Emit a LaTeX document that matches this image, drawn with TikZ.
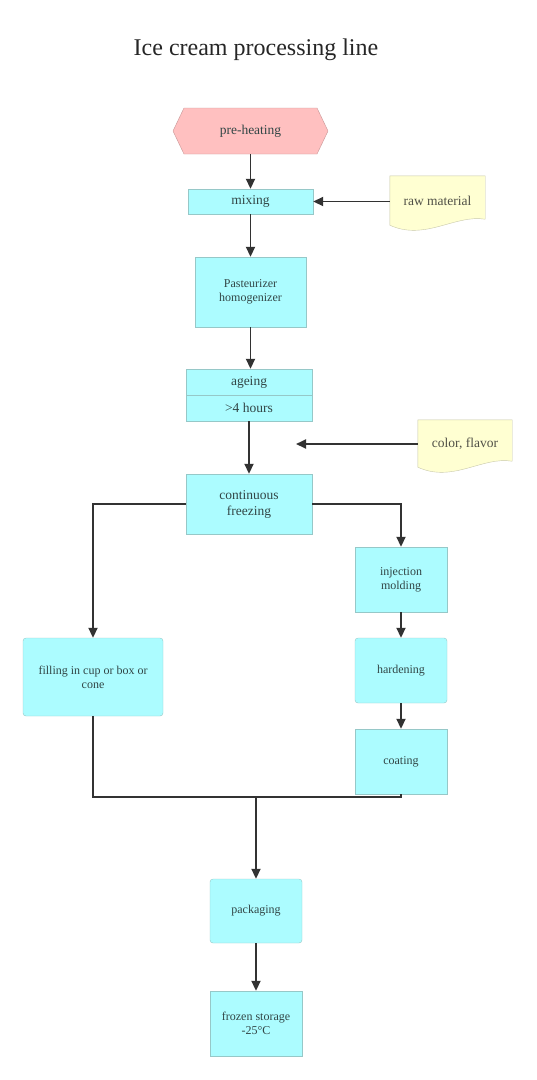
\documentclass[tikz,border=0pt]{standalone}
\usepackage{fontspec}
\setmainfont{Liberation Serif}
\usetikzlibrary{arrows.meta,shapes.symbols,backgrounds}

\definecolor{boxcyan}{RGB}{172,252,255}
\definecolor{cyanline}{RGB}{150,200,200}
\definecolor{boxpink}{RGB}{255,192,192}
\definecolor{pinkline}{RGB}{200,150,150}
\definecolor{notefill}{RGB}{255,255,210}
\definecolor{noteline}{RGB}{200,200,170}
\definecolor{boxtext}{RGB}{50,70,70}
\definecolor{notetext}{RGB}{80,80,70}
\definecolor{linegray}{RGB}{50,50,50}

\tikzset{
    proc/.style={rectangle, draw=cyanline, fill=boxcyan, text=boxtext, align=center, inner sep=2pt, font=\fontsize{12}{14}\selectfont},
    bigproc/.style={proc, font=\fontsize{13.5}{16}\selectfont},
    rproc/.style={proc, rounded corners=3pt},
    note/.style={text=notetext, align=center, inner sep=2pt, font=\fontsize{13.5}{16}\selectfont},
    notebg/.style={draw=noteline, fill=notefill},
    flow/.style={draw=linegray, line width=1.8pt, -{Triangle[length=10pt,width=9pt]}},
    link/.style={draw=linegray, line width=1.8pt}
}

\begin{document}
\begin{tikzpicture}[x=1pt,y=-1pt]
\useasboundingbox (0,0) rectangle (536,1080);

% title
\node[font=\fontsize{24}{28}\selectfont, text=black!85] (title) at (256,50) {Ice cream processing line};

% main column
\node[signal, signal to=east and west, signal pointer angle=129, draw=pinkline, fill=boxpink, text=boxtext,
      minimum width=155pt, minimum height=46pt, inner sep=0pt, font=\fontsize{13.5}{16}\selectfont] (pre) at (250.5,131) {pre-heating};
\node[bigproc, minimum width=125pt, minimum height=25pt] (mixing) at (250.5,201.5) {mixing};
\node[proc, minimum width=111pt, minimum height=70pt] (past) at (250.5,292) {Pasteurizer\\homogenizer};
\node[bigproc, minimum width=126pt, minimum height=26pt] (ageing) at (249,382) {ageing};
\node[bigproc, minimum width=126pt, minimum height=26pt] (hours) at (249,408) {>4 hours};
\node[bigproc, minimum width=126pt, minimum height=60pt] (freeze) at (249,504) {continuous\\freezing};

% side inputs
\node[note, minimum width=95pt, minimum height=49pt] (raw) at (437.5,200.5) {raw material};
\node[note, minimum width=94pt, minimum height=47pt] (color) at (465,443.5) {color, flavor};
\coordinate (dropin) at (296,444);
\begin{scope}[on background layer]
    \draw[notebg] (raw.south west) -- (raw.north west) -- (raw.north east) -- ([yshift=6pt]raw.south east)
        .. controls ([xshift=-30pt,yshift=11pt]raw.south east) and ([xshift=35pt,yshift=-16pt]raw.south west) .. (raw.south west) -- cycle;
    \draw[notebg] (color.south west) -- (color.north west) -- (color.north east) -- ([yshift=6pt]color.south east)
        .. controls ([xshift=-30pt,yshift=11pt]color.south east) and ([xshift=35pt,yshift=-16pt]color.south west) .. (color.south west) -- cycle;
\end{scope}

% branches
\node[rproc, minimum width=140pt, minimum height=78pt] (fill) at (93,677) {filling in cup or box or\\cone};
\node[proc, minimum width=92pt, minimum height=65pt] (inj) at (401,579.5) {injection\\molding};
\node[rproc, minimum width=92pt, minimum height=65pt] (hard) at (401,670.5) {hardening};
\node[proc, minimum width=92pt, minimum height=65pt] (coat) at (401,761.5) {coating};

% end of line
\coordinate (join) at (256,797);
\node[rproc, minimum width=92pt, minimum height=64pt] (pack) at (256,911) {packaging};
\node[proc, minimum width=92pt, minimum height=65pt] (frozen) at (256,1023.5) {frozen storage\\-25°C};

% connectors
\draw[flow] (pre.south) -- (mixing.north);
\draw[flow] (raw.west |- mixing.east) -- (mixing.east);
\draw[flow] (mixing.south) -- (past.north);
\draw[flow] (past.south) -- (ageing.north -| past.south);
\draw[flow] (hours.south) -- (freeze.north);
\draw[flow] (color.west |- dropin) -- (dropin);
\draw[flow] (freeze.west) -| (fill.north);
\draw[flow] (freeze.east) -| (inj.north);
\draw[flow] (inj) -- (hard);
\draw[flow] (hard) -- (coat);
\draw[link] (fill.south) |- (join) -| (coat.south);
\draw[flow] (join) -- (pack.north);
\draw[flow] (pack) -- (frozen);

\end{tikzpicture}
\end{document}
